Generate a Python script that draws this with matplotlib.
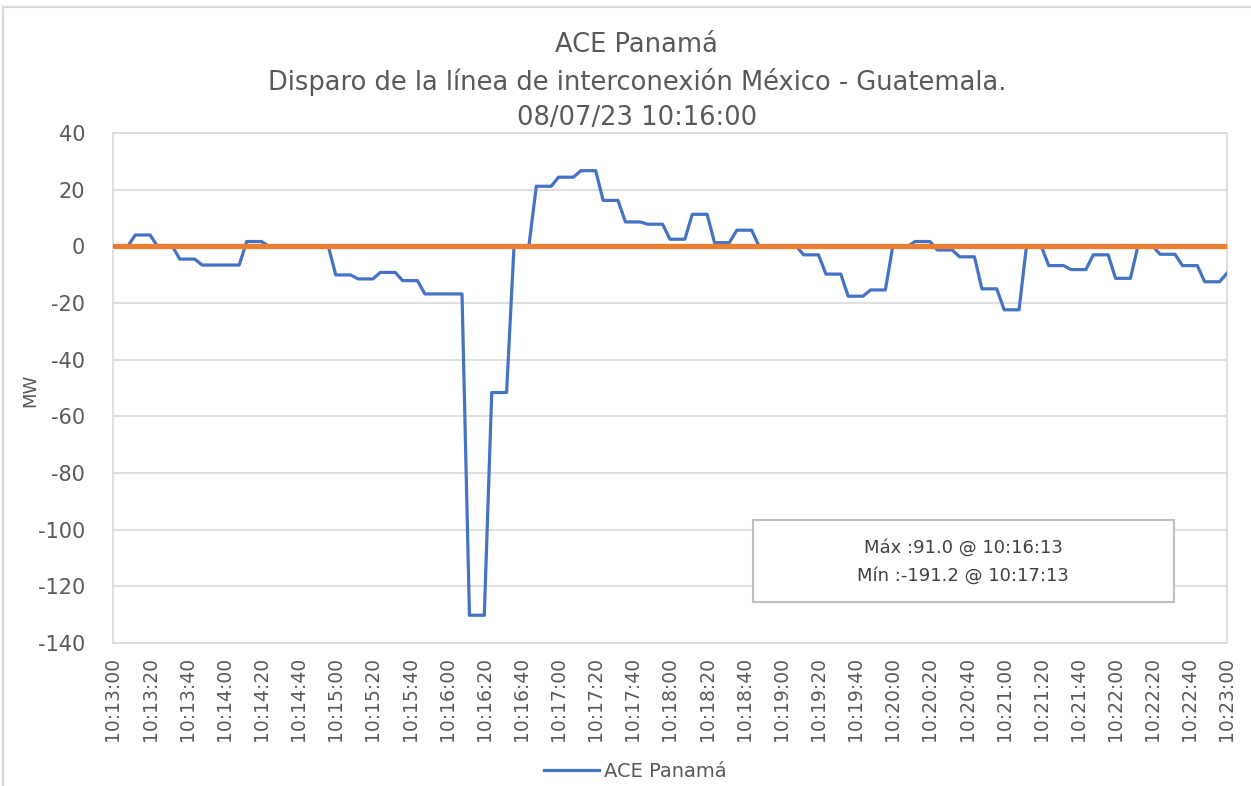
import matplotlib.pyplot as plt
import matplotlib.lines as mlines
import numpy as np

# seconds after 10:13:00 where the ACE trace changes slope, and the MW value there
t_sec = [0, 8, 12, 20, 24, 32, 36, 44, 48, 68, 72, 80, 84, 116, 120, 128, 132, 140,
         144, 152, 156, 164, 168, 188, 192, 200, 204, 212, 216, 224, 228, 236, 240,
         248, 252, 260, 264, 272, 276, 284, 288, 296, 300, 308, 312, 320, 324, 332,
         336, 344, 348, 368, 372, 380, 384, 392, 396, 404, 408, 416, 420, 428, 432,
         440, 444, 452, 456, 464, 468, 476, 480, 488, 492, 500, 504, 512, 516, 524,
         528, 536, 540, 548, 552, 560, 564, 572, 576, 584, 588, 596, 600]
ace_mw = [0, 0, 4.0, 4.0, 0, 0, -4.5, -4.5, -6.6, -6.6, 1.7, 1.7, 0, 0, -10.1, -10.1,
          -11.5, -11.5, -9.2, -9.2, -12.1, -12.1, -16.8, -16.8, -130.2, -130.2,
          -51.6, -51.6, 0, 0, 21.2, 21.2, 24.4, 24.4, 26.7, 26.7, 16.2, 16.2, 8.6,
          8.6, 7.8, 7.8, 2.5, 2.5, 11.3, 11.3, 1.3, 1.3, 5.7, 5.7, 0, 0, -3.0, -3.0,
          -9.8, -9.8, -17.6, -17.6, -15.4, -15.4, 0, 0, 1.7, 1.7, -1.3, -1.3, -3.7,
          -3.7, -15.0, -15.0, -22.4, -22.4, 0, 0, -6.8, -6.8, -8.2, -8.2, -3.0, -3.0,
          -11.3, -11.3, 0, 0, -2.8, -2.8, -6.8, -6.8, -12.5, -12.5, -9.5]

ref_t = [0, 600]
ref_mw = [0, 0]

tick_sec = list(range(0, 601, 20))
tick_labels = ["10:13:00", "10:13:20", "10:13:40", "10:14:00", "10:14:20", "10:14:40",
               "10:15:00", "10:15:20", "10:15:40", "10:16:00", "10:16:20", "10:16:40",
               "10:17:00", "10:17:20", "10:17:40", "10:18:00", "10:18:20", "10:18:40",
               "10:19:00", "10:19:20", "10:19:40", "10:20:00", "10:20:20", "10:20:40",
               "10:21:00", "10:21:20", "10:21:40", "10:22:00", "10:22:20", "10:22:40",
               "10:23:00"]
y_ticks = list(range(-140, 41, 20))

grey = "#595959"
blue = "#4472C4"
orange = "#ED7D31"

fig = plt.figure(figsize=(12.51, 7.86), dpi=100)
ax = fig.add_axes([0.0903, 0.1819, 0.8905, 0.6489])

ax.plot(t_sec, ace_mw, color=blue, lw=2.3, zorder=3)
ax.plot(ref_t, ref_mw, color=orange, lw=3.8, solid_capstyle="butt", zorder=4)

ax.set_xlim(0, 600)
ax.set_ylim(-140, 40)
ax.set_xticks(tick_sec)
ax.set_xticklabels(tick_labels, rotation=90, fontsize=13.5, color=grey)
ax.set_yticks(y_ticks)
ax.set_yticklabels([str(v) for v in y_ticks], fontsize=15, color=grey)
ax.tick_params(length=0, pad=10)
ax.tick_params(axis="y", pad=20)
ax.grid(axis="y", color="#D9D9D9", lw=1.2)
ax.set_axisbelow(True)
for s in ax.spines.values():
    s.set_color("#D9D9D9")
    s.set_linewidth(1.2)
fig.text(30 / 1251, 1 - 390 / 786, "MW", rotation=90, ha="center", va="center",
         fontsize=13, color=grey)

fig.text(0.509, 0.943, "ACE Panamá", ha="center", va="center", fontsize=18.5, color=grey)
fig.text(0.509, 0.896, "Disparo de la línea de interconexión México - Guatemala.",
         ha="center", va="center", fontsize=18.5, color=grey)
fig.text(0.509, 0.850, "08/07/23 10:16:00", ha="center", va="center", fontsize=18.5, color=grey)

# annotation box with max / min
box = plt.Rectangle((753 / 1251, 1 - 602 / 786), 421 / 1251, 82 / 786,
                    transform=fig.transFigure, facecolor="white",
                    edgecolor="#BFBFBF", lw=1.5, zorder=5)
fig.patches.append(box)
fig.text(963 / 1251, 1 - 548 / 786, "Máx :91.0 @ 10:16:13", ha="center", va="center",
         fontsize=13, color="#404040", zorder=6)
fig.text(963 / 1251, 1 - 576 / 786, "Mín :-191.2 @ 10:17:13", ha="center", va="center",
         fontsize=13, color="#404040", zorder=6)

# outer chart border (top and left only visible)
fig.lines.append(mlines.Line2D([3 / 1251, 1], [1 - 7 / 786, 1 - 7 / 786],
                               transform=fig.transFigure, color="#D9D9D9", lw=1.5))
fig.lines.append(mlines.Line2D([3 / 1251, 3 / 1251], [0, 1 - 7 / 786],
                               transform=fig.transFigure, color="#D9D9D9", lw=1.5))

handle = mlines.Line2D([], [], color=blue, lw=2.3)
fig.legend([handle], ["ACE Panamá"], loc="center", bbox_to_anchor=(0.508, 0.019),
           frameon=False, fontsize=14, handlelength=2.8, handletextpad=0.3,
           labelcolor=grey)

plt.savefig("out.png", dpi=100)
